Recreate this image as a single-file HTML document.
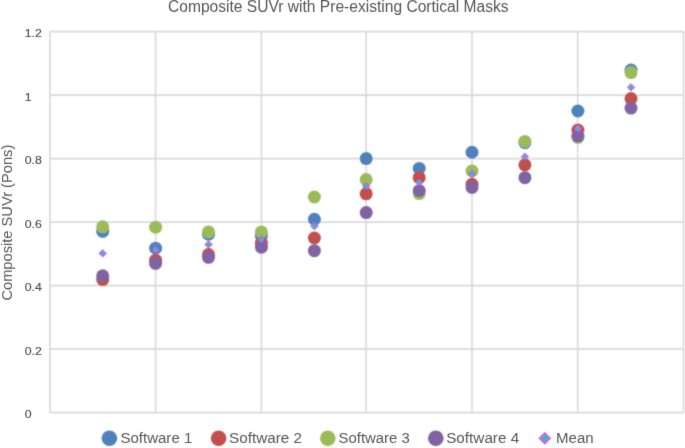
<!DOCTYPE html><html><head><meta charset="utf-8"><style>html,body{margin:0;padding:0;background:#fff;}svg{display:block;}</style></head><body>
<svg width="685" height="448" viewBox="0 0 685 448" font-family='"Liberation Sans", sans-serif'>
<defs><filter id="bl" x="0" y="0" width="685" height="448" filterUnits="userSpaceOnUse"><feConvolveMatrix order="3" kernelMatrix="1 2 1 2 10 2 1 2 1" edgeMode="duplicate" preserveAlpha="false"/></filter><filter id="bt" x="0" y="0" width="685" height="448" filterUnits="userSpaceOnUse"><feConvolveMatrix order="3" kernelMatrix="0 1 0 1 8 1 0 1 0" edgeMode="duplicate" preserveAlpha="false"/></filter></defs>
<rect x="0" y="0" width="685" height="448" fill="#fff"/>
<g filter="url(#bl)">
<line x1="49.90" y1="412.60" x2="683.50" y2="412.60" stroke="#D9D9D9" stroke-width="1.6"/>
<line x1="49.90" y1="349.10" x2="683.50" y2="349.10" stroke="#D9D9D9" stroke-width="1.6"/>
<line x1="49.90" y1="285.60" x2="683.50" y2="285.60" stroke="#D9D9D9" stroke-width="1.6"/>
<line x1="49.90" y1="222.10" x2="683.50" y2="222.10" stroke="#D9D9D9" stroke-width="1.6"/>
<line x1="49.90" y1="158.60" x2="683.50" y2="158.60" stroke="#D9D9D9" stroke-width="1.6"/>
<line x1="49.90" y1="95.10" x2="683.50" y2="95.10" stroke="#D9D9D9" stroke-width="1.6"/>
<line x1="49.90" y1="31.60" x2="683.50" y2="31.60" stroke="#D9D9D9" stroke-width="1.6"/>
<line x1="49.90" y1="412.60" x2="49.90" y2="31.60" stroke="#D9D9D9" stroke-width="1.6"/>
<line x1="155.60" y1="412.60" x2="155.60" y2="31.60" stroke="#D9D9D9" stroke-width="1.6"/>
<line x1="261.40" y1="412.60" x2="261.40" y2="31.60" stroke="#D9D9D9" stroke-width="1.6"/>
<line x1="366.10" y1="412.60" x2="366.10" y2="31.60" stroke="#D9D9D9" stroke-width="1.6"/>
<line x1="472.00" y1="412.60" x2="472.00" y2="31.60" stroke="#D9D9D9" stroke-width="1.6"/>
<line x1="577.70" y1="412.60" x2="577.70" y2="31.60" stroke="#D9D9D9" stroke-width="1.6"/>
<line x1="683.50" y1="412.60" x2="683.50" y2="31.60" stroke="#D9D9D9" stroke-width="1.6"/>
<circle cx="102.70" cy="231.31" r="6.5" fill="#4F81BD"/>
<circle cx="155.60" cy="248.14" r="6.5" fill="#4F81BD"/>
<circle cx="208.50" cy="234.16" r="6.5" fill="#4F81BD"/>
<circle cx="261.40" cy="236.07" r="6.5" fill="#4F81BD"/>
<circle cx="314.40" cy="219.24" r="6.5" fill="#4F81BD"/>
<circle cx="366.20" cy="158.60" r="6.5" fill="#4F81BD"/>
<circle cx="419.20" cy="168.44" r="6.5" fill="#4F81BD"/>
<circle cx="472.00" cy="152.25" r="6.5" fill="#4F81BD"/>
<circle cx="524.90" cy="142.73" r="6.5" fill="#4F81BD"/>
<circle cx="577.90" cy="110.98" r="6.5" fill="#4F81BD"/>
<circle cx="631.00" cy="70.02" r="6.5" fill="#4F81BD"/>
<circle cx="102.70" cy="279.57" r="6.5" fill="#C0504D"/>
<circle cx="155.60" cy="260.20" r="6.5" fill="#C0504D"/>
<circle cx="208.50" cy="254.49" r="6.5" fill="#C0504D"/>
<circle cx="261.40" cy="243.06" r="6.5" fill="#C0504D"/>
<circle cx="314.40" cy="237.98" r="6.5" fill="#C0504D"/>
<circle cx="366.20" cy="193.84" r="6.5" fill="#C0504D"/>
<circle cx="419.20" cy="177.65" r="6.5" fill="#C0504D"/>
<circle cx="472.00" cy="184.32" r="6.5" fill="#C0504D"/>
<circle cx="524.90" cy="164.95" r="6.5" fill="#C0504D"/>
<circle cx="577.90" cy="130.03" r="6.5" fill="#C0504D"/>
<circle cx="631.00" cy="98.59" r="6.5" fill="#C0504D"/>
<circle cx="102.70" cy="226.86" r="6.5" fill="#9BBB59"/>
<circle cx="155.60" cy="227.18" r="6.5" fill="#9BBB59"/>
<circle cx="208.50" cy="231.94" r="6.5" fill="#9BBB59"/>
<circle cx="261.40" cy="231.94" r="6.5" fill="#9BBB59"/>
<circle cx="314.40" cy="197.02" r="6.5" fill="#9BBB59"/>
<circle cx="366.20" cy="179.56" r="6.5" fill="#9BBB59"/>
<circle cx="419.20" cy="193.53" r="6.5" fill="#9BBB59"/>
<circle cx="472.00" cy="170.98" r="6.5" fill="#9BBB59"/>
<circle cx="524.90" cy="141.46" r="6.5" fill="#9BBB59"/>
<circle cx="577.90" cy="137.33" r="6.5" fill="#9BBB59"/>
<circle cx="631.00" cy="72.56" r="6.5" fill="#9BBB59"/>
<circle cx="102.70" cy="275.76" r="6.5" fill="#8064A2"/>
<circle cx="155.60" cy="263.38" r="6.5" fill="#8064A2"/>
<circle cx="208.50" cy="257.34" r="6.5" fill="#8064A2"/>
<circle cx="261.40" cy="247.18" r="6.5" fill="#8064A2"/>
<circle cx="314.40" cy="250.68" r="6.5" fill="#8064A2"/>
<circle cx="366.20" cy="212.58" r="6.5" fill="#8064A2"/>
<circle cx="419.20" cy="190.67" r="6.5" fill="#8064A2"/>
<circle cx="472.00" cy="187.49" r="6.5" fill="#8064A2"/>
<circle cx="524.90" cy="177.65" r="6.5" fill="#8064A2"/>
<circle cx="577.90" cy="136.06" r="6.5" fill="#8064A2"/>
<circle cx="631.00" cy="108.12" r="6.5" fill="#8064A2"/>
<path d="M102.70 249.77L106.30 253.37L102.70 256.97L99.10 253.37Z" fill="#45AFC8" stroke="#E81CE8" stroke-width="1.0"/>
<path d="M155.60 246.12L159.20 249.72L155.60 253.32L152.00 249.72Z" fill="#45AFC8" stroke="#E81CE8" stroke-width="1.0"/>
<path d="M208.50 240.88L212.10 244.48L208.50 248.08L204.90 244.48Z" fill="#45AFC8" stroke="#E81CE8" stroke-width="1.0"/>
<path d="M261.40 235.96L265.00 239.56L261.40 243.16L257.80 239.56Z" fill="#45AFC8" stroke="#E81CE8" stroke-width="1.0"/>
<path d="M314.40 222.63L318.00 226.23L314.40 229.83L310.80 226.23Z" fill="#45AFC8" stroke="#E81CE8" stroke-width="1.0"/>
<path d="M366.20 182.54L369.80 186.14L366.20 189.74L362.60 186.14Z" fill="#45AFC8" stroke="#E81CE8" stroke-width="1.0"/>
<path d="M419.20 178.97L422.80 182.57L419.20 186.17L415.60 182.57Z" fill="#45AFC8" stroke="#E81CE8" stroke-width="1.0"/>
<path d="M472.00 170.16L475.60 173.76L472.00 177.36L468.40 173.76Z" fill="#45AFC8" stroke="#E81CE8" stroke-width="1.0"/>
<path d="M524.90 153.09L528.50 156.69L524.90 160.29L521.30 156.69Z" fill="#45AFC8" stroke="#E81CE8" stroke-width="1.0"/>
<path d="M577.90 125.00L581.50 128.60L577.90 132.20L574.30 128.60Z" fill="#45AFC8" stroke="#E81CE8" stroke-width="1.0"/>
<path d="M631.00 83.72L634.60 87.32L631.00 90.92L627.40 87.32Z" fill="#45AFC8" stroke="#E81CE8" stroke-width="1.0"/>
<circle cx="109.4" cy="438.2" r="7.8" fill="#4F81BD"/>
<circle cx="218.6" cy="438.2" r="7.8" fill="#C0504D"/>
<circle cx="327.8" cy="438.2" r="7.8" fill="#9BBB59"/>
<circle cx="435.8" cy="438.2" r="7.8" fill="#8064A2"/>
<path d="M544.8 432.8L550.1999999999999 438.2L544.8 443.59999999999997L539.4 438.2Z" fill="#45AFC8" stroke="#E81CE8" stroke-width="1.1"/>
</g>
<g filter="url(#bt)">
<text transform="translate(24.7,418.10) scale(1.1,1)" font-size="11.2" fill="#4a4a4a" stroke="#4a4a4a" stroke-width="0.12">0</text>
<text transform="translate(24.7,354.60) scale(1.1,1)" font-size="11.2" fill="#4a4a4a" stroke="#4a4a4a" stroke-width="0.12">0.2</text>
<text transform="translate(24.7,291.10) scale(1.1,1)" font-size="11.2" fill="#4a4a4a" stroke="#4a4a4a" stroke-width="0.12">0.4</text>
<text transform="translate(24.7,227.60) scale(1.1,1)" font-size="11.2" fill="#4a4a4a" stroke="#4a4a4a" stroke-width="0.12">0.6</text>
<text transform="translate(24.7,164.10) scale(1.1,1)" font-size="11.2" fill="#4a4a4a" stroke="#4a4a4a" stroke-width="0.12">0.8</text>
<text transform="translate(24.7,100.60) scale(1.1,1)" font-size="11.2" fill="#4a4a4a" stroke="#4a4a4a" stroke-width="0.12">1</text>
<text transform="translate(24.7,37.10) scale(1.1,1)" font-size="11.2" fill="#4a4a4a" stroke="#4a4a4a" stroke-width="0.12">1.2</text>
<text x="168" y="11.9" font-size="15.6" fill="#575757" textLength="340.6" lengthAdjust="spacingAndGlyphs">Composite SUVr with Pre-existing Cortical Masks</text>
<text transform="translate(12,300.6) rotate(-90)" x="0" y="0" font-size="15" fill="#575757" textLength="155.9" lengthAdjust="spacingAndGlyphs">Composite SUVr (Pons)</text>
<text x="120.4" y="443.1" font-size="15.2" fill="#575757" textLength="71.9" lengthAdjust="spacingAndGlyphs">Software 1</text>
<text x="229.1" y="443.1" font-size="15.2" fill="#575757" textLength="73.0" lengthAdjust="spacingAndGlyphs">Software 2</text>
<text x="338.5" y="443.1" font-size="15.2" fill="#575757" textLength="71.3" lengthAdjust="spacingAndGlyphs">Software 3</text>
<text x="446.2" y="443.1" font-size="15.2" fill="#575757" textLength="73.0" lengthAdjust="spacingAndGlyphs">Software 4</text>
<text x="556.1" y="443.1" font-size="15.2" fill="#575757" textLength="37.6" lengthAdjust="spacingAndGlyphs">Mean</text>
</g></svg></body></html>
